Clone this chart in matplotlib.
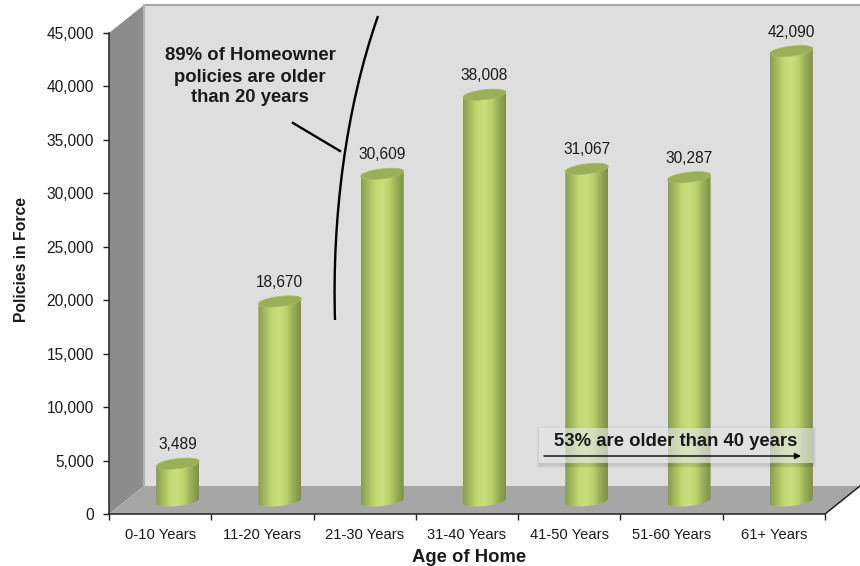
import numpy as np
import matplotlib
matplotlib.use("Agg")
import matplotlib.pyplot as plt
from matplotlib.colors import LinearSegmentedColormap
from matplotlib.patches import Polygon, PathPatch, Rectangle
from matplotlib.path import Path
from matplotlib.ticker import FuncFormatter

plt.rcParams['font.family'] = ['Liberation Sans', 'DejaVu Sans']

categories = ['0-10 Years', '11-20 Years', '21-30 Years', '31-40 Years',
              '41-50 Years', '51-60 Years', '61+ Years']
policies = [3489, 18670, 30609, 38008, 31067, 30287, 42090]
y_ticks = [0, 5000, 10000, 15000, 20000, 25000, 30000, 35000, 40000, 45000]

W, H = 860, 566
LEFT, RIGHT, TOP, BOTTOM = 109, 825, 33, 514
DEPTH_X, DEPTH_Y = 35, 28

bar_cmap = LinearSegmentedColormap.from_list(
    'bar', ['#8a9d50', '#a9bd5e', '#c4d974', '#cbdf7c', '#bcd06c', '#99ad55', '#7f9048'])

fig = plt.figure(figsize=(W / 100, H / 100), dpi=100, facecolor='white')

# pixel space layer for the 3d walls
bg = fig.add_axes([0, 0, 1, 1], zorder=0)
bg.set_xlim(0, W)
bg.set_ylim(H, 0)
bg.axis('off')

back = Rectangle((LEFT + DEPTH_X, TOP - DEPTH_Y), W - LEFT - DEPTH_X, BOTTOM - TOP,
                 facecolor='#dedede', edgecolor='none')
bg.add_patch(back)
bg.plot([LEFT + DEPTH_X, W], [TOP - DEPTH_Y] * 2, color='#a6a6a6', lw=1.5)

left_wall = Polygon([(LEFT, TOP), (LEFT + DEPTH_X, TOP - DEPTH_Y),
                     (LEFT + DEPTH_X, BOTTOM - DEPTH_Y), (LEFT, BOTTOM)],
                    facecolor='#8c8c8c', edgecolor='none')
bg.add_patch(left_wall)
bg.plot([LEFT + DEPTH_X] * 2, [TOP - DEPTH_Y, BOTTOM - DEPTH_Y], color='#b4b4b4', lw=1.5)

floor = Polygon([(LEFT, BOTTOM), (LEFT + DEPTH_X, BOTTOM - DEPTH_Y), (W, BOTTOM - DEPTH_Y),
                 (RIGHT, BOTTOM)], facecolor='#a6a6a6', edgecolor='none')
bg.add_patch(floor)
bg.plot([RIGHT, W], [BOTTOM, BOTTOM - DEPTH_Y], color='#222222', lw=1.1)
bg.set_xlim(0, W)
bg.set_ylim(H, 0)

# value axes
ax = fig.add_axes([LEFT / W, 1 - BOTTOM / H, (RIGHT - LEFT) / W, (BOTTOM - TOP) / H], zorder=1)
ax.patch.set_alpha(0)
ax.set_xlim(-0.5, len(categories) - 0.5)
ax.set_ylim(0, 45000)

px_x = (len(categories)) / (RIGHT - LEFT)
px_y = 45000 / (BOTTOM - TOP)


def ellipse(cx, cy, start=0.0, stop=2 * np.pi):
    # slanted ellipse used for the cylinder caps, half width 21.5px
    t = np.linspace(start, stop, 60)
    xs = cx + 21.5 * np.cos(t) * px_x
    ys = cy + (5.0 * np.sin(t) + 2.5 * np.cos(t)) * px_y
    return np.column_stack([xs, ys])


def cylinder(i, value):
    cx = i + 17.5 * px_x
    base = 13 * px_y
    top = base + value
    bottom_arc = ellipse(cx, base, np.pi, 2 * np.pi)
    top_arc = ellipse(cx, top, 0, np.pi)
    body = Polygon(np.vstack([bottom_arc, top_arc]), facecolor='none', edgecolor='none',
                   transform=ax.transData, clip_on=False)
    ax.add_patch(body)
    grad = ax.imshow(np.linspace(0, 1, 64).reshape(1, -1), cmap=bar_cmap, aspect='auto',
                     extent=[cx - 21.5 * px_x, cx + 21.5 * px_x, 0, top + 8 * px_y],
                     zorder=2)
    grad.set_clip_path(body)
    cap = Polygon(ellipse(cx, top), facecolor='#9bae58', edgecolor='#a9bc62', lw=0.5,
                  zorder=3, clip_on=False)
    ax.add_patch(cap)
    ax.text(cx, top + 19 * px_y, f'{value:,}', ha='center', va='center', fontsize=11.2,
            color='#1a1a1a', zorder=4, clip_on=False)


for i, value in enumerate(policies):
    cylinder(i, value)

ax.set_xlim(-0.5, len(categories) - 0.5)
ax.set_ylim(0, 45000)

for side in ['top', 'right']:
    ax.spines[side].set_visible(False)
for side in ['left', 'bottom']:
    ax.spines[side].set_color('#222222')
    ax.spines[side].set_linewidth(1.1)

ax.set_yticks(y_ticks)
ax.yaxis.set_major_formatter(FuncFormatter(lambda v, _: f'{int(v):,}'))
ax.tick_params(axis='y', length=4, width=1, color='#222222', pad=7, labelsize=11.2,
               labelcolor='#1a1a1a')
ax.set_xticks(range(len(categories)))
ax.set_xticklabels(categories)
ax.set_xticks(np.arange(-0.5, len(categories)), minor=True)
ax.tick_params(axis='x', which='major', length=0, pad=10, labelsize=10.6, labelcolor='#1a1a1a')
ax.tick_params(axis='x', which='minor', length=4, width=1, color='#222222')

# annotations, also in pixel space
ann = fig.add_axes([0, 0, 1, 1], zorder=2)
ann.set_xlim(0, W)
ann.set_ylim(H, 0)
ann.axis('off')

ann.text(22, 259, 'Policies in Force', rotation=90, ha='center', va='center',
         fontsize=11.3, fontweight='bold', color='#1a1a1a')
ann.text(469, 557, 'Age of Home', ha='center', va='center', fontsize=13.3,
         fontweight='bold', color='#1a1a1a')

for y, line in zip([56, 77, 98], ['89% of Homeowner', 'policies are older', 'than 20 years']):
    ann.text(250, y, line, ha='center', va='center', fontsize=13.3, fontweight='bold',
             color='#1a1a1a')

curve = Path([(378, 16), (345, 110), (332, 220), (335, 320)],
             [Path.MOVETO, Path.CURVE4, Path.CURVE4, Path.CURVE4])
ann.add_patch(PathPatch(curve, facecolor='none', edgecolor='black', lw=1.7))
ann.plot([293, 340], [123, 151], color='black', lw=1.7)

# soft shadow, then the translucent note box
for grow, alpha in [(3, 0.03), (2, 0.04), (1, 0.05)]:
    ann.add_patch(Rectangle((539 - grow + 1, 428 + 2 - grow), 274 + 2 * grow - 1, 35 + 2 * grow,
                            facecolor='black', edgecolor='none', alpha=alpha))
ann.add_patch(Rectangle((539, 428), 274, 35, facecolor='#f4f4f4', edgecolor='none', alpha=0.62))
ann.text(676, 441, '53% are older than 40 years', ha='center', va='center', fontsize=13.3,
         fontweight='bold', color='#1a1a1a')
ann.annotate('', xy=(801, 456), xytext=(544, 456),
             arrowprops=dict(arrowstyle='-|>', color='black', lw=1, mutation_scale=9,
                             shrinkA=0, shrinkB=0))

fig.savefig('out.png', dpi=100)
